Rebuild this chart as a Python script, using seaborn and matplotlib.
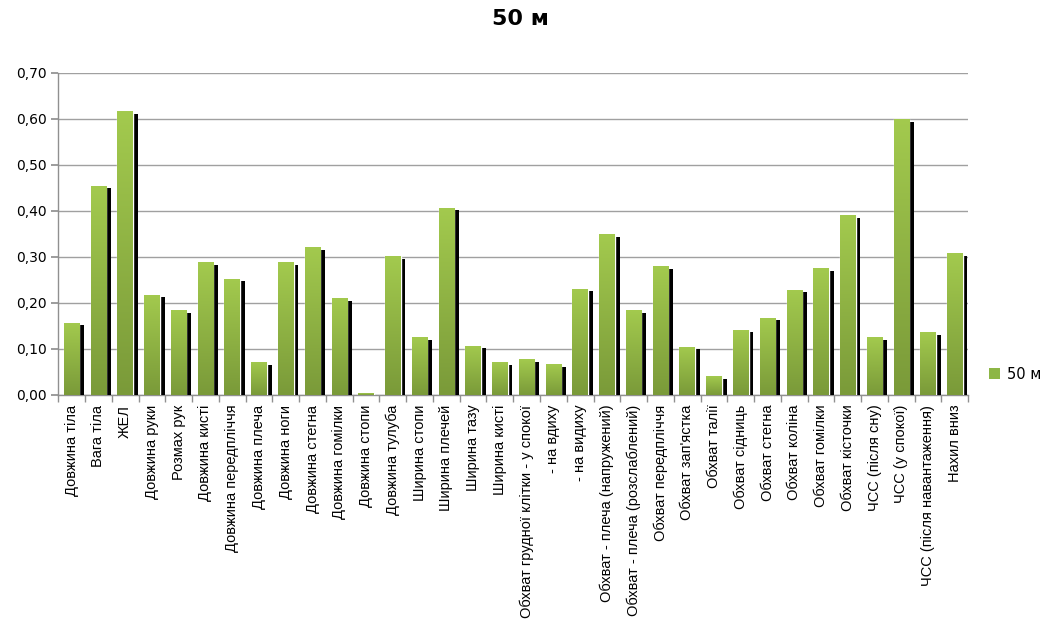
import numpy as np
import pandas as pd
import seaborn as sns
import matplotlib
matplotlib.use("Agg")
import matplotlib.pyplot as plt
import matplotlib.patheffects as pe
from matplotlib.patches import Patch
from matplotlib.ticker import FuncFormatter, FixedLocator

# Correlation values
categories = [
    "Довжина тіла", "Вага тіла", "ЖЕЛ", "Довжина руки", "Розмах рук",
    "Довжина кисті", "Довжина передпліччя", "Довжина плеча", "Довжина ноги",
    "Довжина стегна", "Довжина гомілки", "Довжина стопи", "Довжина тулуба",
    "Ширина стопи", "Ширина плечей", "Ширина тазу", "Ширина кисті",
    "Обхват грудної клітки - у спокої", "- на вдиху", "- на видиху",
    "Обхват - плеча (напружений)", "Обхват - плеча (розслаблений)",
    "Обхват передпліччя", "Обхват зап'ястка", "Обхват талії", "Обхват сідниць",
    "Обхват стегна", "Обхват коліна", "Обхват гомілки", "Обхват кісточки",
    "ЧСС (після сну)", "ЧСС (у спокої)", "ЧСС (після навантаження)", "Нахил вниз",
]
values = [
    0.157, 0.455, 0.617, 0.218, 0.185, 0.288, 0.253, 0.072, 0.288,
    0.322, 0.211, 0.004, 0.301, 0.126, 0.407, 0.107, 0.072,
    0.078, 0.067, 0.231, 0.349, 0.184, 0.280, 0.105, 0.041, 0.142,
    0.168, 0.229, 0.276, 0.391, 0.126, 0.600, 0.136, 0.309,
]
series_name = "50 м"
y_ticks = [0.0, 0.1, 0.2, 0.3, 0.4, 0.5, 0.6, 0.7]

df = pd.DataFrame({"category": categories, "value": values})

sns.set_theme(style="white")
plt.rcParams["font.family"] = ["DejaVu Sans"]
plt.rcParams["text.color"] = "black"

fig = plt.figure(figsize=(10.4, 6.22), dpi=100)
ax = fig.add_axes([0.056, 0.365, 0.875, 0.518])

sns.barplot(data=df, x="category", y="value", color="#8db646", width=0.58,
            saturation=1, ax=ax, zorder=3)

# vertical gradient + dark drop shadow on each bar
grad = np.linspace(0, 1, 256).reshape(-1, 1)
cmap = matplotlib.colors.LinearSegmentedColormap.from_list("g", ["#7a9a39", "#a3ca4e"])
for bar in ax.patches:
    bar.set_path_effects([pe.SimplePatchShadow(offset=(3.5, -2), shadow_rgbFace="black", alpha=1.0),
                          pe.Normal()])
    x0, y0 = bar.get_x(), bar.get_y()
    w, h = bar.get_width(), bar.get_height()
    if h <= 0:
        continue
    im = ax.imshow(grad, extent=(x0, x0 + w, y0, y0 + h), origin="lower", cmap=cmap,
                   aspect="auto", zorder=4)
    im.set_clip_path(bar)

ax.set_xlim(-0.5, len(categories) - 0.5)
ax.set_ylim(0, 0.7)
ax.set_yticks(y_ticks)
ax.yaxis.set_major_formatter(FuncFormatter(lambda v, _: f"{v:.2f}".replace(".", ",")))
ax.set_xlabel("")
ax.set_ylabel("")

ax.grid(axis="y", color="#a0a0a0", linewidth=1, zorder=0)
ax.set_axisbelow(True)
for side in ["top", "right"]:
    ax.spines[side].set_visible(False)
for side in ["left", "bottom"]:
    ax.spines[side].set_color("#909090")
    ax.spines[side].set_linewidth(1)

ax.set_xticks(range(len(categories)))
ax.set_xticklabels(categories, rotation=90, fontsize=10.5, family=["Liberation Sans", "DejaVu Sans"])
ax.tick_params(axis="x", which="major", length=0, pad=7, colors="black")
ax.xaxis.set_minor_locator(FixedLocator(np.arange(-0.5, len(categories), 1.0)))
ax.tick_params(axis="x", which="minor", length=5, color="#909090", direction="out", bottom=True)
ax.tick_params(axis="y", length=5, color="#909090", labelcolor="black", direction="out",
               left=True, labelsize=10)

handle = Patch(facecolor="#8db646", edgecolor="none", label=series_name)
ax.legend(handles=[handle], loc="center left", bbox_to_anchor=(1.012, 0.065), frameon=False,
          handlelength=0.7, handleheight=0.7, handletextpad=0.5, borderaxespad=0.3,
          fontsize=10.5)

fig.suptitle("50 м", fontsize=16, fontweight="bold", y=0.985, color="black")

fig.savefig("out.png", dpi=100)
